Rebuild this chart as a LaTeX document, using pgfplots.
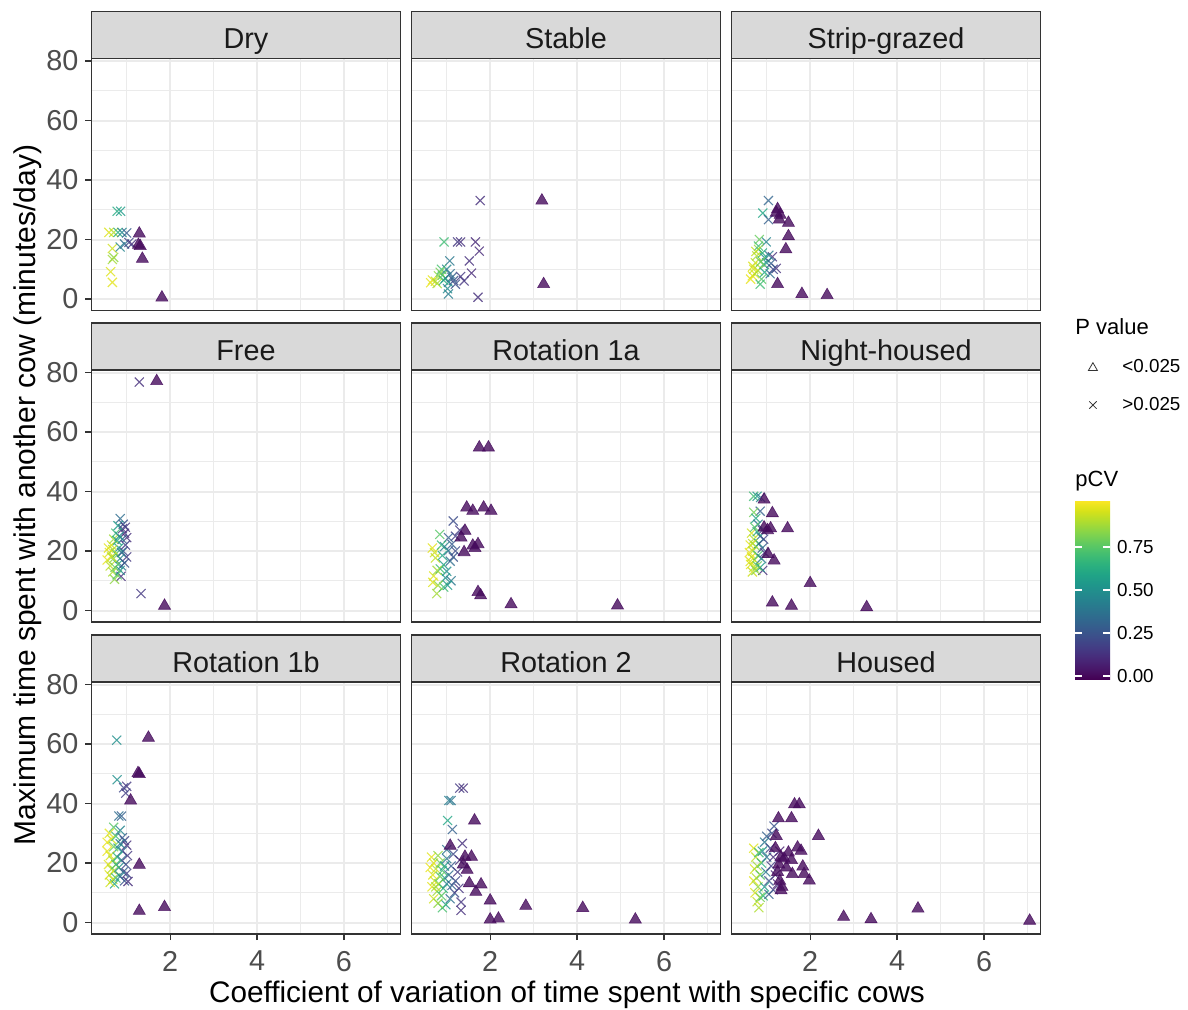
\documentclass[border=0pt]{standalone}
\usepackage{fontspec}
\setmainfont{Liberation Sans}
\usepackage{pgfplots}
\pgfplotsset{compat=1.18}
\usepgfplotslibrary{colormaps}
\definecolor{grey10}{HTML}{1A1A1A}
\definecolor{grey20}{HTML}{333333}
\definecolor{grey30}{HTML}{4D4D4D}
\definecolor{grey85}{HTML}{D9D9D9}
\definecolor{grey92}{HTML}{EBEBEB}
\pgfplotsset{
  panel/.style={
    scale only axis, width=154.5pt, height=126pt, anchor=north west,
    xmin=0.19, xmax=7.30, ymin=-3.85, ymax=80.85,
    xtick={2,4,6}, ytick={0,20,40,60,80},
    minor xtick={1,3,5,7}, minor ytick={10,30,50,70},
    grid=both,
    major grid style={draw=grey92, line width=1pt},
    minor grid style={draw=grey92, line width=0.55pt},
    axis line style={draw=grey20, line width=0.6pt},
    tick align=outside, major tick length=3pt, minor tick length=0pt,
    tick pos=left,
    major tick style={draw=grey20, line width=0.6pt},
    tick label style={font=\fontsize{14.4}{16}\selectfont, text=grey30},
    xticklabel style={yshift=-2pt},
    /pgf/number format/assume math mode=true,
    colormap/viridis, point meta min=-0.017, point meta max=1.023,
    every axis title shift=0pt,
    title style={at={(0.5,1)}, anchor=south, yshift=0pt, fill=grey85, draw=grey20, line width=0.6pt,
      minimum width=154.5pt, minimum height=23.5pt, text height=16.5pt, text depth=2.5pt,
      inner sep=0pt, outer sep=0pt,
      font=\fontsize{14.4}{16}\selectfont, text=grey10},
  },
  noxlab/.style={xticklabel=\empty, xtick style={draw=none}},
  noylab/.style={yticklabel=\empty, ytick style={draw=none}},
  tri/.style={scatter, only marks, mark=triangle*, mark size=3.5pt, point meta=explicit,
    scatter/use mapped color={draw=mapped color, fill=mapped color}, opacity=0.8, line width=0.3pt},
  crs/.style={scatter, only marks, mark=x, mark size=3.2pt, point meta=explicit,
    scatter/use mapped color={draw=mapped color, fill=mapped color}, opacity=0.8, line width=0.55pt},
}
\begin{document}
\begin{tikzpicture}
\useasboundingbox (0,0) rectangle (594pt,504.5pt);
% ---------- Row 1 ----------
\begin{axis}[panel, noxlab, at={(45.75pt,475.25pt)}, title={Dry}]
\addplot[crs] table[x=x, y=y, meta=c]{
x y c
0.78 29.5 0.62
0.86 29.5 0.55
0.59 22.4 0.97
0.70 22.4 0.90
0.80 22.4 0.62
0.89 22.4 0.45
1.00 22.2 0.28
0.67 17.0 0.95
0.85 17.5 0.45
0.95 18.5 0.35
1.05 19.0 0.20
1.12 18.5 0.12
0.70 14.0 0.85
0.67 13.3 0.88
0.63 9.2 0.97
0.67 5.6 0.98
};
\addplot[tri] table[x=x, y=y, meta=c]{
x y c
1.29 22.0 0.01
1.27 18.2 0.01
1.31 17.8 0.01
1.36 13.5 0.01
1.81 0.5 0.01
};
\end{axis}
\begin{axis}[panel, noxlab, noylab, at={(205.75pt,475.25pt)}, title={Stable}]
\addplot[crs] table[x=x, y=y, meta=c]{
x y c
1.77 33.1 0.12
0.94 19.2 0.70
1.25 19.2 0.15
1.32 19.2 0.12
1.66 19.2 0.10
1.75 16.1 0.10
1.52 12.8 0.12
1.07 12.8 0.40
1.57 8.7 0.10
1.32 7.6 0.15
1.40 6.1 0.14
0.67 6.4 0.98
0.74 6.0 0.93
0.81 7.8 0.85
0.88 10.0 0.72
1.00 10.0 0.45
1.04 5.6 0.45
1.04 1.7 0.42
1.16 6.2 0.25
1.12 7.3 0.30
0.93 6.3 0.65
0.63 5.5 0.99
0.78 5.2 0.88
0.90 8.0 0.78
0.97 7.0 0.55
1.08 8.5 0.35
1.72 0.6 0.12
1.20 5.0 0.22
0.85 9.0 0.80
1.02 3.5 0.48
};
\addplot[tri] table[x=x, y=y, meta=c]{
x y c
3.19 33.1 0.01
3.23 5.0 0.01
};
\end{axis}
\begin{axis}[panel, noxlab, noylab, at={(365.75pt,475.25pt)}, title={Strip-grazed}]
\addplot[crs] table[x=x, y=y, meta=c]{
x y c
1.04 33.1 0.32
0.91 28.9 0.60
1.04 26.7 0.30
0.99 19.2 0.45
1.13 14.2 0.12
1.05 14.7 0.40
1.22 10.3 0.12
0.95 13.9 0.48
0.67 7.8 0.98
0.70 10.0 0.95
0.74 12.2 0.92
0.81 16.7 0.85
0.77 14.5 0.90
0.88 6.7 0.75
0.85 5.0 0.70
0.63 6.7 0.99
0.81 17.8 0.70
0.93 11.7 0.65
1.00 12.2 0.50
0.72 8.5 0.96
0.80 9.5 0.88
0.68 11.0 0.97
0.86 12.5 0.80
0.90 15.5 0.62
1.10 12.0 0.30
0.95 9.0 0.60
0.75 16.0 0.93
1.08 8.5 0.35
0.83 20.0 0.78
1.15 10.0 0.20
};
\addplot[tri] table[x=x, y=y, meta=c]{
x y c
1.25 30.2 0.01
1.22 29.0 0.01
1.31 28.3 0.01
1.29 26.7 0.01
1.50 25.6 0.01
1.50 21.1 0.01
1.44 16.7 0.01
1.25 5.0 0.01
1.81 1.7 0.01
2.39 1.3 0.01
};
\end{axis}
% ---------- Row 2 ----------
\begin{axis}[panel, noxlab, at={(45.75pt,319.5pt)}, title={Free}]
\addplot[crs] table[x=x, y=y, meta=c]{
x y c
1.29 76.8 0.12
1.33 5.7 0.15
0.85 30.9 0.35
0.90 27.5 0.15
0.95 26.0 0.10
1.00 24.5 0.12
0.97 22.0 0.18
0.92 20.0 0.20
1.00 18.0 0.15
0.87 11.5 0.12
0.80 28.5 0.55
0.75 26.0 0.70
0.70 24.0 0.88
0.65 22.0 0.95
0.60 19.5 0.97
0.55 17.0 0.99
0.62 15.0 0.92
0.68 13.0 0.90
0.72 10.5 0.85
0.78 12.0 0.75
0.80 15.5 0.60
0.85 17.5 0.45
0.88 15.0 0.40
0.75 19.0 0.70
0.82 21.0 0.55
0.70 17.5 0.85
0.90 24.0 0.30
0.78 23.5 0.62
0.65 18.0 0.93
0.95 16.0 0.25
0.85 13.5 0.50
0.73 14.5 0.80
0.92 29.0 0.25
0.68 20.5 0.90
0.58 21.0 0.98
0.83 25.0 0.48
0.97 28.0 0.15
0.88 19.5 0.38
};
\addplot[tri] table[x=x, y=y, meta=c]{
x y c
1.69 77.1 0.01
1.87 1.6 0.01
};
\end{axis}
\begin{axis}[panel, noxlab, noylab, at={(205.75pt,319.5pt)}, title={Rotation 1a}]
\addplot[crs] table[x=x, y=y, meta=c]{
x y c
1.15 30.1 0.22
1.30 27.0 0.15
1.20 25.0 0.18
0.67 21.0 0.98
0.74 17.7 0.93
0.70 11.6 0.97
0.84 25.6 0.75
0.77 5.7 0.88
0.93 7.9 0.70
1.00 13.2 0.50
1.08 16.6 0.35
1.04 20.1 0.35
1.12 22.3 0.28
1.04 24.5 0.30
0.93 15.4 0.55
0.97 11.0 0.52
0.80 8.5 0.85
0.72 19.5 0.95
0.85 14.0 0.70
0.90 18.5 0.60
1.15 18.0 0.25
0.88 22.0 0.68
1.10 10.0 0.40
0.78 13.5 0.88
0.95 21.5 0.45
1.20 20.0 0.22
1.02 8.5 0.55
0.68 9.5 0.97
};
\addplot[tri] table[x=x, y=y, meta=c]{
x y c
1.75 54.8 0.01
1.96 54.8 0.01
1.46 34.6 0.01
1.60 33.5 0.01
1.85 34.6 0.01
2.02 33.5 0.01
1.42 26.8 0.01
1.33 24.5 0.01
1.60 21.8 0.01
1.72 22.3 0.01
1.65 21.0 0.01
1.40 19.6 0.01
1.72 6.2 0.01
1.78 5.1 0.01
2.48 2.1 0.01
4.93 1.7 0.01
};
\end{axis}
\begin{axis}[panel, noxlab, noylab, at={(365.75pt,319.5pt)}, title={Night-housed}]
\addplot[crs] table[x=x, y=y, meta=c]{
x y c
0.70 38.4 0.70
0.78 38.4 0.55
0.86 38.0 0.40
0.85 33.4 0.30
0.70 33.0 0.80
0.91 13.5 0.12
0.75 31.0 0.60
0.80 29.0 0.40
0.90 27.0 0.15
0.65 26.0 0.95
0.70 24.0 0.90
0.85 25.0 0.35
0.62 22.0 0.98
0.68 20.0 0.93
0.75 21.5 0.82
0.82 22.5 0.55
0.90 21.0 0.30
0.65 18.0 0.96
0.72 17.0 0.90
0.80 18.5 0.70
0.88 17.5 0.40
0.63 15.5 0.98
0.70 14.5 0.92
0.78 15.0 0.78
0.85 14.5 0.55
0.67 13.0 0.95
0.75 13.5 0.85
0.60 19.5 0.99
0.93 24.0 0.20
0.78 26.5 0.62
0.72 28.0 0.75
0.95 19.5 0.18
0.62 16.5 0.97
0.68 22.5 0.92
};
\addplot[tri] table[x=x, y=y, meta=c]{
x y c
0.94 37.3 0.01
1.13 32.7 0.01
0.94 27.9 0.01
1.09 27.6 0.01
1.02 27.0 0.01
1.48 27.6 0.01
1.03 19.0 0.01
1.17 16.8 0.01
2.00 9.2 0.01
1.13 2.7 0.01
1.57 1.6 0.01
3.30 1.1 0.01
};
\end{axis}
% ---------- Row 3 ----------
\begin{axis}[panel, at={(45.75pt,163.5pt)}, title={Rotation 1b}]
\addplot[crs] table[x=x, y=y, meta=c]{
x y c
0.77 61.3 0.50
0.78 48.0 0.50
0.93 45.3 0.20
1.00 45.8 0.15
0.98 43.5 0.18
0.82 35.8 0.35
0.88 35.8 0.30
0.70 32.0 0.75
0.60 30.0 0.98
0.65 28.0 0.95
0.75 29.0 0.70
0.85 31.0 0.45
0.95 27.5 0.20
1.00 26.0 0.12
0.90 24.0 0.30
0.80 25.0 0.55
0.70 25.5 0.80
0.55 24.0 0.99
0.62 22.5 0.96
0.68 21.0 0.90
0.78 22.0 0.62
0.88 21.0 0.40
0.98 19.5 0.22
1.02 22.5 0.15
0.58 19.5 0.98
0.65 18.0 0.92
0.72 17.5 0.85
0.82 18.5 0.50
0.92 17.0 0.30
1.00 16.5 0.18
0.60 16.0 0.97
0.68 14.5 0.90
0.75 15.0 0.70
0.85 15.5 0.45
0.95 14.0 0.25
0.72 13.0 0.60
0.55 27.0 0.99
0.90 28.5 0.28
0.75 19.5 0.72
0.62 13.5 0.95
1.03 13.8 0.12
0.85 26.5 0.42
};
\addplot[tri] table[x=x, y=y, meta=c]{
x y c
1.50 62.1 0.01
1.29 49.9 0.01
1.26 50.2 0.01
1.09 41.0 0.01
1.29 19.4 0.01
1.29 3.9 0.01
1.87 5.2 0.01
};
\end{axis}
\begin{axis}[panel, noylab, at={(205.75pt,163.5pt)}, title={Rotation 2}]
\addplot[crs] table[x=x, y=y, meta=c]{
x y c
1.30 45.2 0.15
1.38 45.2 0.12
1.05 41.0 0.42
1.10 41.0 0.38
1.02 34.3 0.60
1.13 31.3 0.30
1.36 26.6 0.12
1.33 4.1 0.12
1.33 6.9 0.14
0.65 22.0 0.98
0.70 20.0 0.96
0.75 18.0 0.92
0.68 16.0 0.97
0.72 14.0 0.95
0.66 12.0 0.98
0.80 22.5 0.85
0.85 20.0 0.80
0.90 17.5 0.70
0.95 15.0 0.60
0.82 13.0 0.82
0.78 10.5 0.88
0.88 9.0 0.75
0.92 11.5 0.65
1.00 13.0 0.45
1.05 16.0 0.35
1.10 19.0 0.28
1.00 21.5 0.40
1.15 23.0 0.22
1.20 14.0 0.20
1.25 17.0 0.15
1.18 10.0 0.22
1.08 8.0 0.35
0.98 6.0 0.55
0.90 5.0 0.72
1.00 24.5 0.38
0.70 8.0 0.95
0.80 6.5 0.85
1.28 11.5 0.14
1.12 12.5 0.30
0.95 19.0 0.55
0.85 15.5 0.78
1.30 21.0 0.12
0.62 18.5 0.99
0.75 12.0 0.90
};
\addplot[tri] table[x=x, y=y, meta=c]{
x y c
1.64 34.3 0.01
1.08 25.8 0.01
1.42 22.1 0.01
1.57 22.1 0.01
1.38 19.5 0.01
1.47 17.7 0.01
1.52 13.2 0.01
1.79 12.8 0.01
1.67 10.3 0.01
2.00 7.4 0.01
2.00 1.0 0.01
2.19 1.3 0.01
2.82 5.6 0.01
4.13 4.9 0.01
5.34 1.0 0.01
};
\end{axis}
\begin{axis}[panel, noylab, at={(365.75pt,163.5pt)}, title={Housed}]
\addplot[crs] table[x=x, y=y, meta=c]{
x y c
1.17 32.4 0.25
1.12 30.0 0.20
0.70 25.0 0.97
0.75 22.0 0.93
0.72 18.0 0.96
0.70 14.0 0.98
0.73 10.0 0.97
0.78 7.0 0.93
0.82 5.0 0.90
0.80 12.0 0.85
0.85 16.0 0.75
0.88 20.0 0.65
0.90 24.0 0.50
0.95 27.0 0.40
1.00 22.0 0.35
0.98 17.0 0.40
0.95 12.0 0.55
0.92 9.0 0.65
1.05 14.0 0.25
1.10 19.0 0.18
1.08 25.0 0.20
1.15 22.0 0.12
1.20 16.0 0.10
1.15 11.0 0.15
1.25 13.0 0.08
1.05 9.5 0.30
0.85 8.5 0.80
0.78 19.0 0.88
0.82 23.5 0.70
0.76 15.0 0.90
1.00 29.0 0.30
1.30 24.0 0.08
};
\addplot[tri] table[x=x, y=y, meta=c]{
x y c
1.64 39.7 0.01
1.75 39.7 0.01
1.27 35.0 0.01
1.57 35.0 0.01
2.19 29.1 0.01
1.22 29.1 0.01
1.71 25.2 0.01
1.79 24.1 0.01
1.20 25.0 0.01
1.50 23.5 0.01
1.33 22.0 0.01
1.40 21.5 0.01
1.57 21.0 0.01
1.28 19.5 0.01
1.83 18.8 0.01
1.45 18.5 0.01
1.25 17.0 0.01
1.59 16.3 0.01
1.86 16.3 0.01
1.98 14.1 0.01
1.30 14.0 0.01
1.35 12.0 0.01
1.33 10.8 0.01
2.77 1.9 0.01
3.40 1.1 0.01
4.48 4.7 0.01
7.05 0.6 0.01
};
\end{axis}
% ---------- Legend & colorbar ----------
\begin{axis}[at={(537.5pt,165pt)}, anchor=south west, scale only axis, width=17.5pt, height=89.5pt,
  xmin=0, xmax=1, ymin=0, ymax=1, axis line style={draw=none}, xtick=\empty, ytick=\empty,
  colormap/viridis, point meta min=-0.017, point meta max=1.023,
  colorbar, colorbar/width=17.5pt, colorbar shift/.style={},
  colorbar style={at={(parent axis.south west)}, anchor=south west, xshift=0pt,
    height=89.5pt, ytick={0,0.25,0.5,0.75}, yticklabel pos=right,
    axis line style={draw=none}, tick align=inside, major tick length=3.5pt,
    ytick pos=both, ytick style={draw=white, line width=0.6pt},
    /pgf/number format/fixed, /pgf/number format/fixed zerofill, /pgf/number format/precision=2,
    /pgf/number format/assume math mode=true,
    yticklabel style={font=\fontsize{9.4}{11}\selectfont, text=black}},
  legend style={at={(0.2,1.83)}, anchor=north west, draw=none, fill=none,
    font=\fontsize{9.4}{11}\selectfont, row sep=6.5pt,
    /tikz/every odd column/.append style={column sep=10.5pt}},
  legend cell align=left]
\addlegendimage{only marks, mark=triangle, mark size=2.6pt, grey20, line width=0.4pt}
\addlegendentry{<0.025}
\addlegendimage{only marks, mark=x, mark size=2.6pt, grey20, line width=0.4pt}
\addlegendentry{>0.025}
\end{axis}
\node[anchor=west, inner sep=0pt, font=\fontsize{11}{13}\selectfont] at (537.5pt,341pt) {P value};
\node[anchor=west, inner sep=0pt, font=\fontsize{11}{13}\selectfont] at (537.5pt,264pt) {pCV};
\node[anchor=base, inner sep=0pt, font=\fontsize{14.85}{17}\selectfont] at (283.5pt,3.5pt) {Coefficient of variation of time spent with specific cows};
\node[anchor=base, rotate=90, inner sep=0pt, font=\fontsize{15}{17}\selectfont] at (17.5pt,257pt) {Maximum time spent with another cow (minutes/day)};
\end{tikzpicture}
\end{document}
